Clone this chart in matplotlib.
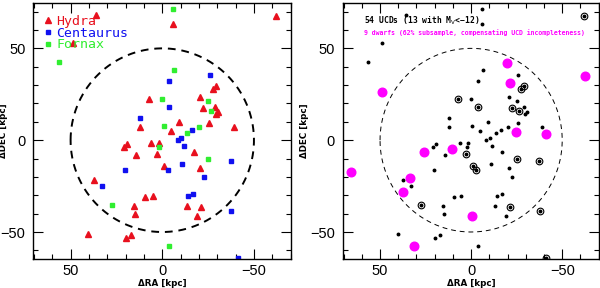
import matplotlib
matplotlib.use("Agg")
import matplotlib.pyplot as plt
import numpy as np

# ---------------- data (kpc) ----------------
hydra_ra = [36.0, 48.9, 7.2, 12.2, -6.0, -62.2, -29.2, -27.6, -20.7, -22.3, -28.8, -30.4,
            -29.5, -9.0, -25.6, -39.1, -4.6, 21.0, 19.1, 6.2, 1.9, 14.1, 2.7, -17.2,
            -0.8, -20.7, 37.2, 9.3, 5.3, 15.3, 14.9, -13.3, -21.3, -19.2, 40.3, 19.7, 17.3]
hydra_dec = [68.0, 52.7, 22.3, 7.4, 63.2, 67.4, 29.7, 28.1, 23.6, 17.7, 18.0, 15.4,
             14.2, 10.0, 9.6, 7.3, 5.1, -3.6, -2.3, -1.5, -1.3, -8.0, -7.7, -6.5,
             -13.9, -15.1, -21.5, -30.9, -30.5, -35.9, -40.0, -35.9, -36.4, -41.3, -51.0, -53.3, -51.7]

cen_ra = [12.2, -3.6, -25.8, -3.7, -16.4, -10.2, -8.4, -11.7, -37.5, 20.2, -2.9, -11.0,
          -22.6, 33.1, -14.0, -16.9, -37.7, -41.2]
cen_dec = [12.0, 32.2, 35.6, 18.3, 5.5, 1.2, -0.1, -3.4, -11.5, -16.0, -16.1, -12.8,
           -20.0, -25.1, -30.5, -29.1, -38.5, -64.1]

fnx_ra = [56.5, 0.0, -0.7, -6.0, -6.3, -25.0, -26.4, -20.2, -13.6, 2.0, -25.0, 27.5, -3.9]
fnx_dec = [42.5, 22.4, 7.7, 71.4, 38.2, 21.6, 15.7, 7.1, 4.0, -3.8, -10.5, -35.1, -57.4]

bright_ra = [7.2, -62.2, -27.6, -29.2, -22.3, -26.4, -3.7, 2.7, -0.8, -2.9, 27.5, -25.0,
             -37.5, -21.3, -37.7, -41.2]
bright_dec = [22.3, 67.4, 28.1, 29.7, 17.7, 15.7, 18.3, -7.7, -13.9, -16.1, -35.1, -10.5,
              -11.5, -36.4, -38.5, -64.1]

dwarf_ra = [48.7, -19.5, -62.5, -21.3, -24.9, -40.9, 26.0, 10.4, 65.8, 33.6, 37.6, -0.4, 31.3]
dwarf_dec = [26.2, 42.0, 35.2, 31.1, 4.2, 3.4, -6.6, -4.9, -17.4, -20.4, -28.2, -41.1, -57.5]

radius = 50.0
xticks = [50, 0, -50]
yticks = [-50, 0, 50]

# ---------------- figure ----------------
fig = plt.figure(figsize=(6.0, 2.88), dpi=100)
axL = fig.add_axes([33 / 600, 1 - 259 / 288, 258 / 600, 256 / 288])
axR = fig.add_axes([342.7 / 600, 1 - 259 / 288, 256.3 / 600, 256 / 288])

theta = np.linspace(0, 2 * np.pi, 400)

for ax, ylab_x in ((axL, -0.095), (axR, -0.133)):
    ax.set_xlim(70.5, -70.2)
    ax.set_ylim(-64.7, 74.7)
    ax.set_xticks(xticks)
    ax.set_yticks(yticks)
    ax.set_xticks(np.arange(-70, 71, 10), minor=True)
    ax.set_yticks(np.arange(-60, 71, 10), minor=True)
    ax.tick_params(which='both', direction='in', top=True, right=True, width=0.8)
    ax.tick_params(which='major', length=7)
    ax.tick_params(which='minor', length=3.5)
    ax.tick_params(axis='x', which='major', pad=3.3)
    ax.tick_params(axis='y', which='major', pad=5.5)
    for lab in ax.get_xticklabels() + ax.get_yticklabels():
        lab.set_fontfamily('Liberation Sans')
        lab.set_fontsize(10.5)
    for sp in ax.spines.values():
        sp.set_linewidth(1.0)
    ax.set_xlabel('ΔRA [kpc]', fontsize=6.3, fontweight='bold')
    ax.set_ylabel('ΔDEC [kpc]', fontsize=6.3, fontweight='bold')
    ax.xaxis.set_label_coords(0.5, -0.08)
    ax.yaxis.set_label_coords(ylab_x, 0.5)

# left panel
axL.plot(radius * np.cos(theta), radius * np.sin(theta), ls=(0, (4, 3)), color='black', lw=1.4)
axL.plot(hydra_ra, hydra_dec, ls='none', marker='^', ms=4.2, color='#e8101e', label='Hydra')
axL.plot(cen_ra, cen_dec, ls='none', marker='s', ms=3.3, color='#1010f0', label='Centaurus')
axL.plot(fnx_ra, fnx_dec, ls='none', marker='s', ms=3.3, color='#30ee30', label='Fornax')
leg = axL.legend(loc='upper left', frameon=False, handlelength=0.5, handletextpad=0.35,
                 labelspacing=-0.1, borderaxespad=0.6, borderpad=0.3,
                 prop={'family': 'DejaVu Sans Mono', 'size': 9.5}, labelcolor='linecolor')

# right panel
axR.plot(radius * np.cos(theta), radius * np.sin(theta), ls=(0, (5, 4)), color='black', lw=0.7)
all_ra = hydra_ra + cen_ra + fnx_ra
all_dec = hydra_dec + cen_dec + fnx_dec
axR.plot(all_ra, all_dec, ls='none', marker='o', ms=1.8, color='black')
axR.plot(bright_ra, bright_dec, ls='none', marker='o', ms=4.8, mfc='none', mec='black', mew=0.8)
axR.plot(dwarf_ra, dwarf_dec, ls='none', marker='o', ms=6.2, color='#ff00ff')
axR.text(0.083, 0.931, '54 UCDs (13 with M$_{\\rm V}$<−12)', transform=axR.transAxes,
         fontsize=5.8, fontweight='bold', family='DejaVu Sans Mono', va='center', ha='left')
axR.text(0.083, 0.886, '9 dwarfs (62% subsample, compensating UCD incompleteness)',
         transform=axR.transAxes, fontsize=4.7, fontweight='bold', family='DejaVu Sans Mono',
         color='#ff00ff', va='center', ha='left')

fig.savefig('out.png', dpi=100)
